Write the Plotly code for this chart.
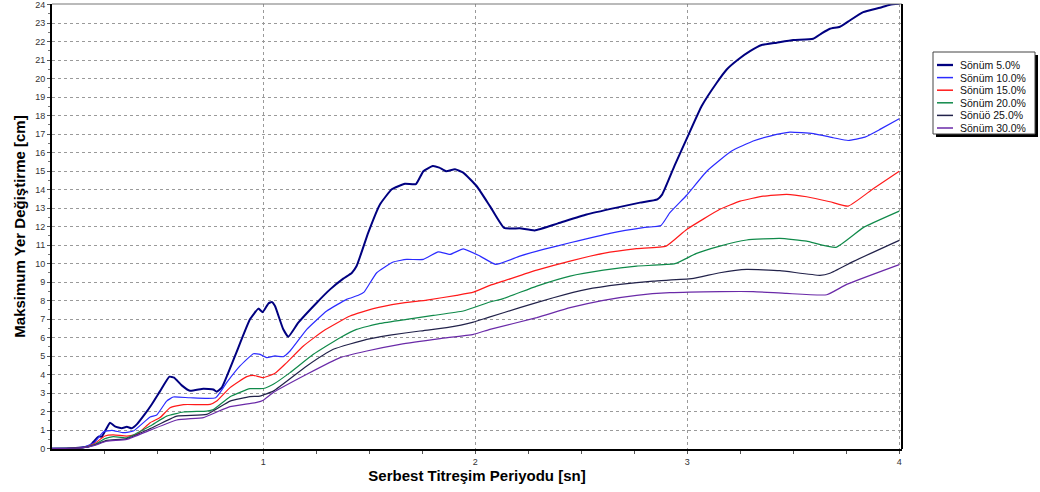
import plotly.graph_objects as go

# ---- data ----
T5 = [0.0, 0.1, 0.15, 0.18, 0.198, 0.222, 0.238, 0.277, 0.30, 0.332, 0.356, 0.379, 0.403, 0.44, 0.474, 0.513, 0.557,
      0.579, 0.615, 0.654, 0.717, 0.764, 0.78, 0.804, 0.866, 0.937, 0.977, 0.997, 1.024, 1.04, 1.055, 1.094, 1.118,
      1.165, 1.252, 1.315, 1.377, 1.417, 1.44, 1.495, 1.55, 1.606, 1.668, 1.72, 1.755, 1.799, 1.83, 1.862, 1.904,
      1.943, 2.006, 2.069, 2.136, 2.21, 2.28, 2.39, 2.525, 2.667, 2.777, 2.859, 2.882, 2.94, 3.005, 3.068, 3.139,
      3.186, 3.24, 3.296, 3.351, 3.422, 3.5, 3.594, 3.634, 3.673, 3.72, 3.76, 3.83, 3.909, 3.956, 4.0]
V5 = [0.0, 0.02, 0.07, 0.14, 0.36, 0.65, 0.65, 1.40, 1.20, 1.10, 1.18, 1.10, 1.31, 1.85, 2.4, 3.11, 3.89,
      3.84, 3.42, 3.13, 3.24, 3.2, 3.08, 3.3, 5.0, 6.99, 7.57, 7.38, 7.85, 7.93, 7.71, 6.45, 6.05,
      6.81, 7.89, 8.61, 9.19, 9.5, 9.87, 11.68, 13.2, 14.02, 14.32, 14.3, 15.0, 15.28, 15.19, 15.0, 15.1,
      14.92, 14.2, 13.11, 11.93, 11.91, 11.8, 12.18, 12.66, 13.03, 13.3, 13.48, 13.75, 15.3, 16.95, 18.52, 19.78,
      20.5, 21.04, 21.49, 21.82, 21.95, 22.09, 22.16, 22.45, 22.7, 22.81, 23.1, 23.6, 23.84, 24.0, 24.05]

T10 = [0.0, 0.1, 0.15, 0.2, 0.245, 0.285, 0.34, 0.387, 0.466, 0.497, 0.544, 0.575, 0.654, 0.775, 0.827, 0.89, 0.953,
       0.985, 1.016, 1.055, 1.094, 1.126, 1.205, 1.299, 1.393, 1.448, 1.475, 1.535, 1.613, 1.676, 1.755, 1.825,
       1.881, 1.943, 2.022, 2.097, 2.21, 2.321, 2.447, 2.635, 2.792, 2.876, 2.918, 2.997, 3.092, 3.209, 3.311,
       3.39, 3.484, 3.594, 3.689, 3.759, 3.838, 3.909, 4.0]
V10 = [0.0, 0.02, 0.07, 0.3, 0.9, 0.99, 0.86, 0.95, 1.71, 1.82, 2.57, 2.79, 2.75, 2.75, 3.57, 4.47, 5.13,
       5.1, 4.92, 5.01, 4.97, 5.28, 6.45, 7.44, 8.07, 8.29, 8.46, 9.51, 10.09, 10.23, 10.23, 10.64,
       10.5, 10.8, 10.41, 9.96, 10.41, 10.77, 11.13, 11.64, 11.95, 12.07, 12.76, 13.7, 15.0, 16.09, 16.63,
       16.9, 17.11, 17.03, 16.81, 16.66, 16.84, 17.26, 17.84]

T15 = [0.0, 0.1, 0.15, 0.2, 0.253, 0.292, 0.356, 0.403, 0.466, 0.513, 0.56, 0.623, 0.749, 0.78, 0.843, 0.922, 0.953,
       1.0, 1.055, 1.102, 1.189, 1.283, 1.409, 1.519, 1.645, 1.771, 1.912, 1.991, 2.069, 2.132, 2.29, 2.447, 2.604,
       2.761, 2.9, 2.997, 3.154, 3.249, 3.358, 3.469, 3.563, 3.673, 3.759, 3.877, 4.0]
V15 = [0.0, 0.02, 0.06, 0.25, 0.68, 0.74, 0.68, 0.77, 1.4, 1.68, 2.21, 2.38, 2.39, 2.57, 3.3, 3.89, 3.96,
       3.84, 4.07, 4.56, 5.55, 6.36, 7.17, 7.57, 7.85, 8.03, 8.29, 8.46, 8.83, 9.06, 9.65, 10.14, 10.56,
       10.81, 10.95, 11.85, 12.94, 13.38, 13.65, 13.75, 13.62, 13.35, 13.11, 14.05, 15.0]

T20 = [0.0, 0.1, 0.15, 0.2, 0.253, 0.292, 0.356, 0.466, 0.544, 0.623, 0.733, 0.764, 0.843, 0.937, 1.0, 1.047, 1.126,
       1.236, 1.362, 1.44, 1.55, 1.676, 1.802, 1.943, 2.069, 2.132, 2.29, 2.447, 2.604, 2.761, 2.942, 3.044, 3.154,
       3.28, 3.437, 3.563, 3.701, 3.83, 4.0]
V20 = [0.0, 0.02, 0.05, 0.2, 0.54, 0.65, 0.59, 1.22, 1.76, 1.98, 2.03, 2.11, 2.81, 3.24, 3.25, 3.48, 4.11,
       5.1, 6.0, 6.45, 6.77, 6.99, 7.2, 7.44, 7.93, 8.11, 8.79, 9.33, 9.65, 9.87, 10.0, 10.56, 10.95,
       11.28, 11.37, 11.22, 10.88, 11.95, 12.84]

T25 = [0.0, 0.1, 0.15, 0.2, 0.261, 0.356, 0.466, 0.592, 0.733, 0.843, 0.937, 0.984, 1.047, 1.205, 1.33, 1.488, 1.598,
       1.739, 1.865, 1.991, 2.062, 2.21, 2.368, 2.525, 2.683, 2.84, 3.021, 3.154, 3.28, 3.437, 3.626, 3.673, 3.787, 4.0]
V25 = [0.0, 0.02, 0.05, 0.18, 0.45, 0.54, 1.08, 1.76, 1.85, 2.57, 2.81, 2.84, 3.11, 4.47, 5.37, 5.91, 6.14,
       6.36, 6.54, 6.84, 7.1, 7.62, 8.16, 8.61, 8.88, 9.06, 9.19, 9.51, 9.69, 9.62, 9.37, 9.48, 10.14, 11.26]

T30 = [0.0, 0.1, 0.15, 0.2, 0.261, 0.356, 0.466, 0.592, 0.717, 0.78, 0.843, 0.969, 1.0, 1.047, 1.205, 1.362, 1.488,
       1.645, 1.834, 1.991, 2.069, 2.29, 2.447, 2.604, 2.761, 2.918, 3.154, 3.311, 3.469, 3.658, 3.752, 4.0]
V30 = [0.0, 0.02, 0.05, 0.16, 0.4, 0.5, 1.0, 1.55, 1.68, 1.98, 2.27, 2.5, 2.62, 3.03, 4.02, 4.92, 5.28,
       5.64, 5.95, 6.18, 6.45, 7.08, 7.62, 8.02, 8.29, 8.43, 8.49, 8.49, 8.39, 8.32, 8.88, 9.95]

SERIES_NAMES = ["Sönüm 5.0%", "Sönüm 10.0%", "Sönüm 15.0%", "Sönüm 20.0%", "Sönüö 25.0%", "Sönüm 30.0%"]
SERIES_T = [T5, T10, T15, T20, T25, T30]
SERIES_V = [V5, V10, V15, V20, V25, V30]
COLORS = ["#000080", "#2b2bff", "#ff1a1a", "#108a4a", "#22224a", "#6a2aa8"]
WIDTHS = [2, 1.2, 1.2, 1.2, 1.2, 1.2]

X_TICKS = [1, 2, 3, 4]
Y_TICKS = list(range(0, 25))

FONT = "Arial, Liberation Sans, sans-serif"

# plot-area geometry (pixels) used to place the hand-drawn legend
W, H = 1040, 492
ML, MR, MT, MB = 52, 138, 4, 43
PW, PH = W - ML - MR, H - MT - MB


def px(xp):
    return (xp - ML) / PW


def py(yp):
    return (H - MB - yp) / PH


fig = go.Figure()
for name, t, v, c, w in zip(SERIES_NAMES, SERIES_T, SERIES_V, COLORS, WIDTHS):
    fig.add_trace(go.Scatter(x=t, y=v, mode="lines", name=name, showlegend=False,
                             line=dict(color=c, width=w, shape="spline", smoothing=0.4)))

shapes = [
    # frame: thin grey top, black right
    dict(type="line", xref="paper", yref="paper", x0=0, x1=1, y0=1, y1=1,
         line=dict(color="#777777", width=1.2), layer="above"),
    dict(type="line", xref="paper", yref="paper", x0=1, x1=1, y0=0, y1=1,
         line=dict(color="black", width=2), layer="above"),
]
# legend box (shadow + frame)
LB_L, LB_T, LB_R, LB_B = 933, 52, 1035, 134
shapes += [
    dict(type="rect", xref="paper", yref="paper", x0=px(LB_L + 3), x1=px(LB_R + 3), y0=py(LB_B + 3), y1=py(LB_T + 3),
         fillcolor="black", line=dict(width=0), layer="above"),
    dict(type="rect", xref="paper", yref="paper", x0=px(LB_L), x1=px(LB_R), y0=py(LB_B), y1=py(LB_T),
         fillcolor="white", line=dict(color="#444444", width=1), layer="above"),
]
annotations = []
ROW0, ROWH = 65, 12.6
for i, (name, c, w) in enumerate(zip(SERIES_NAMES, COLORS, WIDTHS)):
    yy = ROW0 + i * ROWH
    shapes.append(dict(type="line", xref="paper", yref="paper", x0=px(937), x1=px(953), y0=py(yy), y1=py(yy),
                       line=dict(color=c, width=w + 0.3), layer="above"))
    annotations.append(dict(text=name, xref="paper", yref="paper", x=px(958), y=py(yy), xanchor="left",
                            yanchor="middle", showarrow=False,
                            font=dict(family=FONT, size=10.5, color="#111111")))

fig.update_layout(
    width=W, height=H,
    margin=dict(l=ML, r=MR, t=MT, b=MB, autoexpand=False),
    paper_bgcolor="white", plot_bgcolor="white",
    font=dict(family=FONT, size=9, color="#333333"),
    showlegend=False,
    shapes=shapes, annotations=annotations,
    xaxis=dict(range=[0.003, 4.013], tickmode="array", tickvals=X_TICKS,
               ticktext=[str(v) for v in X_TICKS], automargin=False, ticklabeloverflow="allow",
               showgrid=True, gridcolor="#9a9a9a", griddash="dot", gridwidth=1,
               showline=True, linecolor="black", linewidth=2, mirror=False,
               ticks="outside", ticklen=3, tickcolor="#555555",
               minor=dict(dtick=0.25, tick0=0, ticks="outside", ticklen=3, tickcolor="#555555", showgrid=False),
               zeroline=False,
               title=dict(text="<b>Serbest Titreşim Periyodu [sn]</b>",
                          font=dict(family=FONT, size=15, color="black"), standoff=2)),
    yaxis=dict(range=[-0.02, 24.04], tickmode="array", tickvals=Y_TICKS,
               ticktext=[str(v) for v in Y_TICKS], automargin=False, ticklabeloverflow="allow",
               showgrid=True, gridcolor="#9a9a9a", griddash="dot", gridwidth=1,
               showline=True, linecolor="black", linewidth=2, mirror=False,
               ticks="outside", ticklen=3, tickcolor="#555555",
               minor=dict(dtick=0.5, ticks="outside", ticklen=2, tickcolor="#777777", showgrid=False),
               zeroline=False,
               title=dict(text="<b>Maksimum Yer Değiştirme [cm]</b>",
                          font=dict(family=FONT, size=15, color="black"), standoff=6)),
)

fig.write_html("out.html")
